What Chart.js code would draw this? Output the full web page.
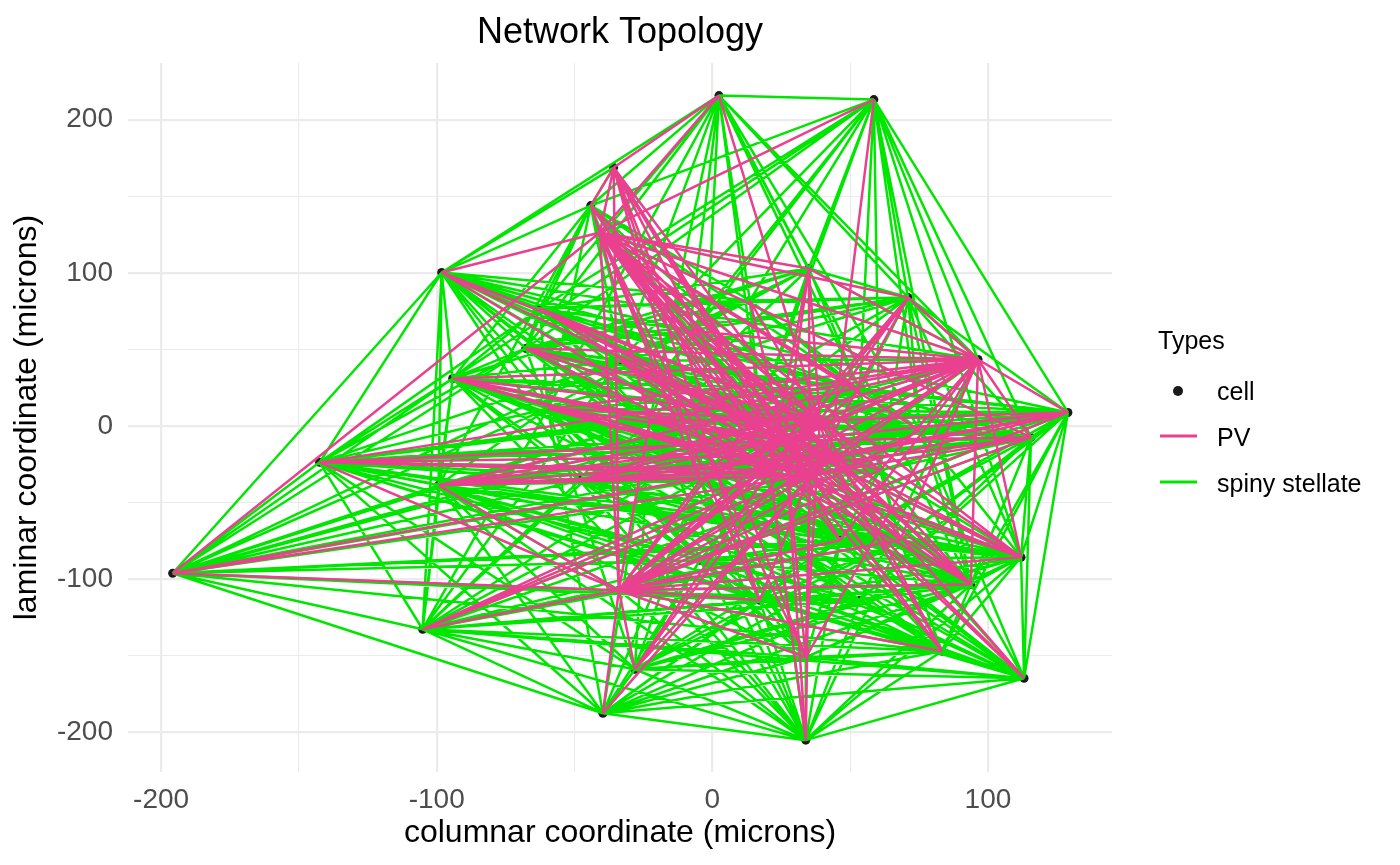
<!DOCTYPE html>
<html>
<head>
<meta charset="utf-8">
<title>Network Topology</title>
<script src="https://cdn.jsdelivr.net/npm/chart.js@4"></script>
<style>
  html, body { margin: 0; padding: 0; background: #fff; }
  #wrap { width: 1400px; height: 865px; }
</style>
</head>
<body>
<div id="wrap"><canvas id="canvasTopologia" width="1400" height="865"></canvas></div>
<script>
// cell positions (microns)
var nodeX = [2.4, 58.6, -35.8, -44.1, -40.8, -98.2, 35.0, 71.0, 96.4, 129.0, 115.6, 112.0, 93.8, 83.3, 113.1, 33.9, 33.9, -28.1, -39.7, -33.9, -105.1, -195.8, -142.5, -99.3, -59.7, -62.6, -67.7, -94.2, 26.3, 35.4, 17.2, -8.2, 53.5, 60.8, -4.5, 46.3, -22.7, 17.2, 68.1, 13.6, 39.0, 42.6, 20.9, -33.6, 75.3, -4.5, 53.5, -48.1];
var nodeY = [215.7, 213.1, 168.7, 143.9, 126.3, 100.2, 102.8, 83.9, 43.4, 8.8, -7.5, -85.8, -103.4, -147.1, -164.8, -205.2, -151.1, -158.9, -187.6, -107.3, -132.8, -96.2, -23.8, -38.8, 11.4, 76.7, 50.6, 31.0, -9.5, -32.3, 10.1, 62.3, 23.2, -29.0, -35.6, -74.7, 3.6, -113.9, -74.7, 81.9, 3.6, -19.2, -29.0, 42.7, -2.9, -87.8, -113.9, -35.6];

// connections: [source, [targets]]
var spinyEdges = [
    [0, [1, 5, 3, 25, 31, 39, 6, 30, 7, 32, 36, 24, 26, 34, 12, 8, 43, 44]],
    [1, [0, 9, 7, 8, 10, 32, 39, 31, 30, 25, 3, 26, 33, 12, 6, 11, 27, 43, 44, 47]],
    [3, [5, 25, 26, 24, 36, 31, 2, 30, 34, 23, 27, 43, 33, 44]],
    [5, [0, 2, 22, 21, 27, 23, 26, 24, 36, 30, 32, 8, 34, 28, 10, 20, 31, 39, 43, 44, 45, 12]],
    [6, [1, 7, 8, 31, 39, 30, 32, 25, 26, 36, 43, 27]],
    [7, [1, 9, 8, 10, 32, 33, 30, 31, 25, 26, 12, 24, 11, 43, 47]],
    [9, [1, 7, 10, 11, 14, 12, 13, 38, 33, 32, 30, 28, 36, 24, 26, 27, 34, 35, 43, 45, 47, 22]],
    [10, [9, 11, 14, 12, 38, 33, 35, 34, 36, 24, 23, 27, 30, 43, 47, 22]],
    [11, [14, 9, 12, 13, 38, 35, 37, 34, 29, 36, 24, 17, 23, 43, 47, 27]],
    [12, [11, 13, 14, 9, 38, 35, 37, 16, 34, 36, 23, 22, 19, 17, 43, 47, 27, 20]],
    [13, [14, 15, 12, 11, 16, 37, 35, 38, 34, 36, 24, 23, 19, 18, 45, 47, 20, 21]],
    [14, [15, 9, 10, 11, 12, 13, 38, 35, 37, 16, 34, 17, 18, 20, 24, 23, 36, 45, 47, 22]],
    [15, [14, 18, 20, 17, 16, 13, 37, 35, 34, 36, 24, 23, 12, 11, 38, 19, 30, 27, 45, 46, 47]],
    [16, [15, 13, 37, 35, 34, 17, 18, 20, 36, 24, 11, 45, 23]],
    [17, [18, 20, 15, 16, 37, 34, 36, 24, 23, 22, 13, 35, 38, 12, 45, 46, 11]],
    [18, [20, 15, 17, 21, 23, 22, 34, 36, 24, 37, 16, 13, 14, 35, 38, 45, 46, 12]],
    [20, [21, 22, 18, 17, 23, 24, 27, 36, 34, 37, 35, 38, 16, 15, 13, 12, 33, 30, 45, 46, 47]],
    [21, [22, 5, 20, 23, 27, 26, 24, 36, 34, 30, 33, 35, 37, 18, 32, 47, 45, 44, 38]],
    [22, [21, 5, 27, 26, 25, 24, 23, 36, 34, 30, 28, 33, 32, 35, 20, 17, 18, 37, 38, 11, 47, 44, 45, 46, 10]],
    [23, [22, 27, 24, 36, 34, 17, 19, 37, 35, 38, 33, 30, 32, 44, 46, 10]],
    [24, [27, 26, 36, 34, 30, 32, 33, 35, 38, 37, 17, 23, 12, 44, 46, 10]],
    [25, [5, 3, 26, 27, 24, 36, 31, 39, 30, 32, 33, 34, 35, 7, 43, 44, 12]],
    [26, [27, 24, 36, 31, 30, 32, 33, 38, 34, 12, 10, 43, 44, 46]],
    [27, [22, 23, 24, 36, 34, 30, 32, 33, 35, 38, 9, 10, 11, 43, 44, 46, 12]],
    [30, [31, 32, 33, 34, 36, 24, 26, 39, 38, 35, 12, 43, 44]],
    [31, [39, 30, 32, 25, 26, 36, 24, 34, 33, 38, 35, 7, 43, 44, 9]],
    [32, [7, 8, 9, 10, 33, 38, 35, 30, 36, 24, 34, 31, 43, 47]],
    [33, [9, 10, 11, 12, 38, 35, 34, 36, 37, 47, 43]],
    [34, [36, 24, 23, 35, 37, 38, 33, 12, 44, 46]],
    [35, [38, 11, 12, 13, 37, 16, 34, 36, 47, 45]],
    [36, [24, 26, 27, 23, 34, 30, 32, 44, 46]],
    [37, [16, 15, 13, 17, 19, 35, 38, 46, 47]],
    [38, [11, 12, 13, 14, 9, 10, 45, 47]],
    [39, [0, 1, 6, 7, 31, 30, 32, 25, 3, 26, 43, 44]],
    [43, [5, 0, 1, 7, 8, 9, 10, 11, 12, 14, 22, 21, 20, 27, 25, 3, 39, 6, 32, 33, 35]],
    [44, [1, 0, 7, 9, 10, 11, 12, 14, 22, 23, 27, 26, 24, 36, 34, 20, 21, 5, 25, 31]],
    [45, [14, 15, 13, 12, 11, 9, 10, 38, 35, 37, 16, 20, 21, 22, 23, 27, 24, 18, 17, 8, 7]],
    [46, [14, 15, 13, 11, 9, 10, 12, 20, 21, 22, 23, 18, 17, 24, 36, 27, 5, 8]],
    [47, [22, 21, 20, 5, 27, 23, 9, 10, 11, 12, 13, 14, 15, 8, 7, 32, 33, 38, 35, 44]]
];
var pvEdges = [
    [2, [0, 4, 3, 28, 29, 30, 34, 37, 19, 41, 42, 16]],
    [4, [0, 1, 5, 3, 21, 28, 29, 30, 40, 32, 33, 8, 35, 38, 12, 13, 16, 34, 36, 37, 6, 7, 11, 10, 19, 41, 42, 44]],
    [8, [6, 7, 9, 10, 28, 29, 40, 30, 31, 36, 24, 23, 34, 19, 22, 33, 35, 38, 11, 12, 4, 26, 27, 16, 41, 42, 47]],
    [19, [20, 21, 22, 23, 17, 18, 28, 29, 40, 30, 8, 32, 33, 35, 38, 11, 12, 16, 13, 37, 4, 2, 36, 10, 34, 9, 41, 42, 44]],
    [28, [22, 23, 27, 26, 25, 24, 4, 2, 6, 39, 7, 8, 9, 10, 11, 12, 13, 16, 15, 19, 34, 36, 35, 38, 14, 33, 47, 43]],
    [29, [21, 22, 23, 27, 24, 36, 4, 25, 6, 7, 8, 9, 10, 12, 11, 13, 16, 19, 20, 37, 15, 14, 47, 43]],
    [40, [4, 5, 25, 26, 27, 36, 34, 24, 23, 19, 17, 16, 13, 12, 11, 9, 8, 7, 6, 31, 39, 47]],
    [41, [4, 2, 5, 22, 23, 27, 21, 19, 17, 18, 20, 26, 25, 3, 0, 1, 8, 9, 14, 11, 12, 13, 47, 43]],
    [42, [4, 3, 22, 23, 24, 27, 26, 19, 20, 17, 15, 8, 9, 10, 7, 6, 11, 12, 5, 43, 47]]
];

var xTicks = [-200, -150, -100, -50, 0, 50, 100];
var yTicks = [-200, -150, -100, -50, 0, 50, 100, 150, 200];

var colorPV = '#EA4090';
var colorSpiny = '#00E600';

// turn adjacency lists into one line dataset, segments split by gaps
function segmentos(lista) {
    let puntos = [];
    for (let i = 0; i < lista.length; i++) {
        let s = lista[i][0];
        let targets = lista[i][1];
        for (let j = 0; j < targets.length; j++) {
            let t = targets[j];
            puntos.push({ x: nodeX[s], y: nodeY[s] });
            puntos.push({ x: nodeX[t], y: nodeY[t] });
            puntos.push({ x: NaN, y: NaN });
        }
    }
    return puntos;
}

let celdas = [];
for (let i = 0; i < nodeX.length; i++) {
    celdas.push({ x: nodeX[i], y: nodeY[i] });
}

function gridWidth(ctx) {
    if (!ctx.tick) return 0;
    return ctx.tick.value % 100 === 0 ? 2.2 : 1.1;
}

var textoPlugin = {
    id: 'textoPlugin',
    afterDraw: function (chart) {
        let ctx = chart.ctx;
        ctx.save();
        ctx.fillStyle = '#000';
        ctx.textBaseline = 'alphabetic';
        ctx.textAlign = 'center';
        ctx.font = '36px "Liberation Sans", Arial, sans-serif';
        ctx.fillText('Network Topology', 620, 43);

        // legend
        ctx.textAlign = 'left';
        ctx.font = '25px "Liberation Sans", Arial, sans-serif';
        ctx.fillText('Types', 1158, 349);
        ctx.fillText('cell', 1217, 400);
        ctx.fillText('PV', 1217, 446);
        ctx.fillText('spiny stellate', 1217, 492);

        ctx.fillStyle = '#1a1a1a';
        ctx.beginPath();
        ctx.arc(1178, 391, 5, 0, Math.PI * 2);
        ctx.fill();

        ctx.lineWidth = 2.8;
        ctx.strokeStyle = colorPV;
        ctx.beginPath();
        ctx.moveTo(1160, 436);
        ctx.lineTo(1197, 436);
        ctx.stroke();
        ctx.strokeStyle = colorSpiny;
        ctx.beginPath();
        ctx.moveTo(1160, 482);
        ctx.lineTo(1197, 482);
        ctx.stroke();
        ctx.restore();
    }
};

var ctx = document.getElementById('canvasTopologia').getContext('2d');
var chartTopologia = new Chart(ctx, {
    type: 'scatter',
    data: {
        datasets: [{
            label: 'PV',
            data: segmentos(pvEdges),
            showLine: true,
            borderColor: colorPV,
            borderWidth: 2.5,
            pointRadius: 0,
            spanGaps: false,
            order: 0
        }, {
            label: 'spiny stellate',
            data: segmentos(spinyEdges),
            showLine: true,
            borderColor: colorSpiny,
            borderWidth: 2.5,
            pointRadius: 0,
            spanGaps: false,
            order: 1
        }, {
            label: 'cell',
            data: celdas,
            pointRadius: 4.5,
            pointBackgroundColor: '#1a1a1a',
            pointBorderWidth: 0,
            order: 2
        }]
    },
    options: {
        responsive: false,
        animation: false,
        devicePixelRatio: 1,
        layout: { padding: { left: 0, right: 288, top: 63, bottom: 0 } },
        plugins: {
            legend: { display: false },
            tooltip: { enabled: false }
        },
        scales: {
            x: {
                type: 'linear',
                min: -212,
                max: 145,
                afterBuildTicks: function (scale) {
                    scale.ticks = xTicks.map(function (v) { return { value: v }; });
                },
                afterFit: function (scale) { scale.height = 93; },
                border: { display: false },
                grid: { color: '#EBEBEB', lineWidth: gridWidth, drawTicks: false },
                ticks: {
                    autoSkip: false,
                    maxRotation: 0,
                    padding: 11,
                    color: '#4D4D4D',
                    font: { family: '"Liberation Sans", Arial, sans-serif', size: 28 },
                    callback: function (v) { return v % 100 === 0 ? String(v) : ''; }
                },
                title: {
                    display: true,
                    text: 'columnar coordinate (microns)',
                    color: '#000',
                    font: { family: '"Liberation Sans", Arial, sans-serif', size: 32 },
                    padding: { top: 0, bottom: 13 }
                }
            },
            y: {
                type: 'linear',
                min: -226,
                max: 237,
                afterBuildTicks: function (scale) {
                    scale.ticks = yTicks.map(function (v) { return { value: v }; });
                },
                afterFit: function (scale) { scale.width = 128; },
                border: { display: false },
                grid: { color: '#EBEBEB', lineWidth: gridWidth, drawTicks: false },
                ticks: {
                    autoSkip: false,
                    padding: 15,
                    color: '#4D4D4D',
                    font: { family: '"Liberation Sans", Arial, sans-serif', size: 28 },
                    callback: function (v) { return v % 100 === 0 ? String(v) : ''; }
                },
                title: {
                    display: true,
                    text: 'laminar coordinate (microns)',
                    color: '#000',
                    font: { family: '"Liberation Sans", Arial, sans-serif', size: 32 },
                    padding: { top: 8, bottom: 0 }
                }
            }
        }
    },
    plugins: [textoPlugin]
});
</script>
</body>
</html>
